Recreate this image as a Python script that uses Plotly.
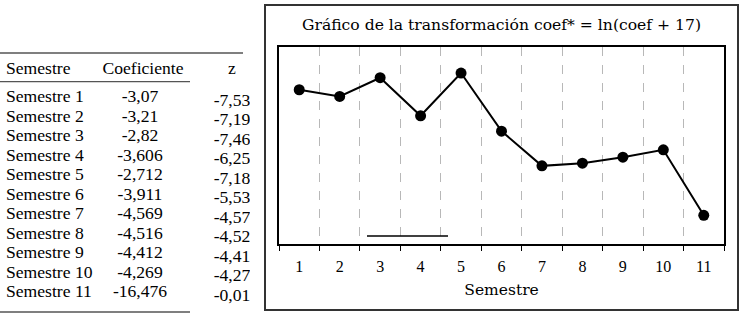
import plotly.graph_objects as go

# ---- data ----
semestres = ["Semestre 1", "Semestre 2", "Semestre 3", "Semestre 4", "Semestre 5", "Semestre 6",
             "Semestre 7", "Semestre 8", "Semestre 9", "Semestre 10", "Semestre 11"]
coeficiente = ["-3,07", "-3,21", "-2,82", "-3,606", "-2,712", "-3,911",
               "-4,569", "-4,516", "-4,412", "-4,269", "-16,476"]
z_vals = ["-7,53", "-7,19", "-7,46", "-6,25", "-7,18", "-5,53",
          "-4,57", "-4,52", "-4,41", "-4,27", "-0,01"]
headers = ["Semestre", "Coeficiente", "z"]

semestre_num = [1, 2, 3, 4, 5, 6, 7, 8, 9, 10, 11]
coef_star = [2.634, 2.624, 2.652, 2.595, 2.659, 2.572, 2.520, 2.524, 2.533, 2.544, 2.446]

W, H = 744, 316
serif = "'Liberation Serif', 'Times New Roman', serif"
school = "'DejaVu Serif', serif"

rows = list(range(len(semestres)))
tfont = dict(family=serif, size=17.6, color="black")

fig = go.Figure()

# ---- chart ----
fig.add_trace(go.Scatter(
    x=semestre_num, y=coef_star, mode="lines+markers",
    line=dict(color="black", width=2),
    marker=dict(color="black", size=11),
    xaxis="x", yaxis="y", showlegend=False, cliponaxis=False))

# ---- table (text on its own axes) ----
fig.add_trace(go.Scatter(x=[6] * len(rows), y=rows, mode="text", text=semestres,
                         textposition="middle right", xaxis="x2", yaxis="y2",
                         textfont=tfont, showlegend=False))
fig.add_trace(go.Scatter(x=[140] * len(rows), y=rows, mode="text", text=coeficiente,
                         textposition="middle center", xaxis="x2", yaxis="y2",
                         textfont=tfont, showlegend=False))
fig.add_trace(go.Scatter(x=[232] * len(rows), y=[r + 0.17 for r in rows], mode="text", text=z_vals,
                         textposition="middle center", xaxis="x2", yaxis="y2",
                         textfont=tfont, showlegend=False))
fig.add_trace(go.Scatter(x=[6, 143, 232], y=[-1.44] * 3, mode="text", text=headers,
                         textposition=["middle right", "middle center", "middle center"],
                         xaxis="x2", yaxis="y2",
                         textfont=tfont, showlegend=False))

shapes = [
    # table rules
    dict(type="line", xref="x2", yref="y2", x0=0, x1=243, y0=-2.31, y1=-2.31,
         line=dict(color="#555", width=1.3)),
    dict(type="line", xref="x2", yref="y2", x0=0, x1=190, y0=-0.84, y1=-0.84,
         line=dict(color="#555", width=1.3)),
    dict(type="line", xref="x2", yref="y2", x0=0, x1=190, y0=10.97, y1=10.97,
         line=dict(color="#555", width=1.5)),
    # outer frame of the chart
    dict(type="rect", xref="paper", yref="paper", x0=265 / W, x1=738 / W, y0=1 - 310 / H, y1=1 - 5 / H,
         line=dict(color="#333", width=2), layer="below"),
    # stray rule in the plot
    dict(type="line", xref="paper", yref="paper", x0=367 / W, x1=448 / W, y0=1 - 236 / H, y1=1 - 236 / H,
         line=dict(color="black", width=1.3)),
]

fig.update_layout(
    width=W, height=H, margin=dict(l=0, r=0, t=0, b=0),
    paper_bgcolor="white", plot_bgcolor="white",
    showlegend=False,
    xaxis=dict(domain=[279 / W, 724 / W], range=[0.5, 11.5],
               tickvals=semestre_num, ticktext=[str(v) for v in semestre_num],
               ticks="", showgrid=False, zeroline=False,
               showline=True, mirror=True, linecolor="black", linewidth=2,
               tickfont=dict(family=serif, size=16, color="black"),
               ticklabelstandoff=7,
               minor=dict(tick0=0.5, dtick=1, ticks="outside", ticklen=5, tickcolor="black",
                          showgrid=True, gridcolor="#b8b8b8", griddash="dash", gridwidth=1),
               title=dict(text="Semestre", font=dict(family=school, size=15.5, color="black"), standoff=10)),
    yaxis=dict(domain=[72 / H, 269 / H], range=[2.403, 2.698], showticklabels=False,
               ticks="", showgrid=False, zeroline=False,
               showline=True, mirror=True, linecolor="black", linewidth=2),
    xaxis2=dict(domain=[0, 250 / W], range=[0, 250], visible=False, anchor="y2"),
    yaxis2=dict(domain=[0, 1], range=[11.18, -5.03], visible=False, anchor="x2"),
    shapes=shapes,
    annotations=[dict(text="Gráfico de la transformación coef* = ln(coef + 17)",
                      xref="paper", yref="paper", x=501.5 / W, y=1 - 25 / H,
                      xanchor="center", yanchor="middle", showarrow=False,
                      font=dict(family=school, size=15.6, color="black"))],
)

fig.write_html("out.html")
